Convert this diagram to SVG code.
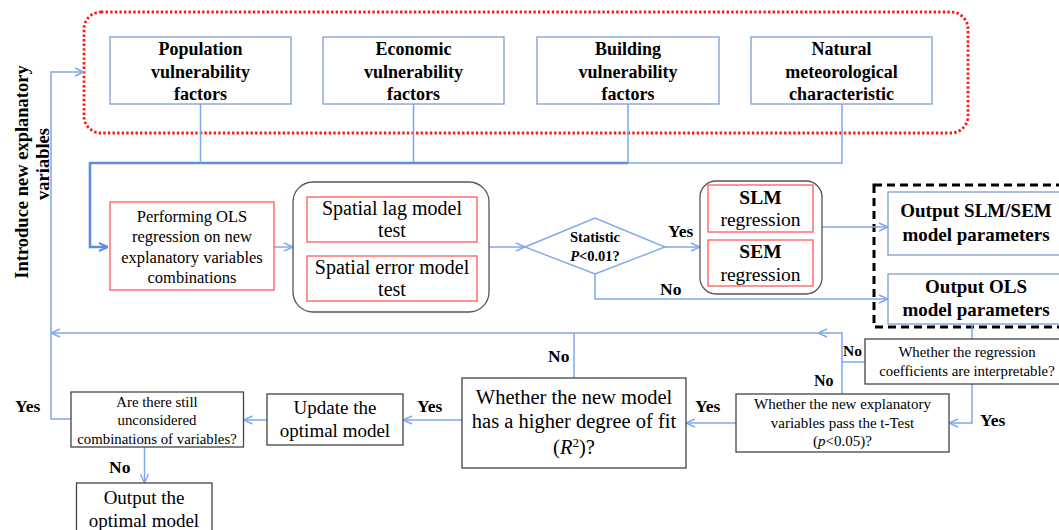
<svg xmlns="http://www.w3.org/2000/svg" width="1059" height="530" viewBox="0 0 1059 530">
  <style>
    text { font-family: "Liberation Serif", "Times New Roman", serif; fill: #000; }
    .b { font-weight: bold; }
    .blue { fill: #fff; stroke: #7f9fd0; stroke-width: 1.3; }
    .red { fill: #fff; stroke: #ff5a5a; stroke-width: 1.3; }
    .gray { fill: #fff; stroke: #555; stroke-width: 1.3; }
    .dark { fill: #fff; stroke: #444; stroke-width: 1.3; }
    .ln { fill: none; stroke: #7fa8ea; stroke-width: 1.5; }
    .thick { fill: none; stroke: #5b8fdc; stroke-width: 2.6; }
    .lab { font-weight: bold; font-size: 17.5px; }
  </style>
  <defs>
    <marker id="arr" viewBox="0 0 10 10" refX="10" refY="5" markerWidth="10" markerHeight="10" markerUnits="userSpaceOnUse" orient="auto">
      <path d="M1,1 L10,5 L1,9" fill="none" stroke="#7fa8ea" stroke-width="1.4"/>
    </marker>
    <marker id="arrT" viewBox="0 0 10 10" refX="10" refY="5" markerWidth="10" markerHeight="10" markerUnits="userSpaceOnUse" orient="auto">
      <path d="M1,1 L10,5 L1,9" fill="none" stroke="#5b8fdc" stroke-width="2"/>
    </marker>
  </defs>

  <rect width="1059" height="530" fill="#fff"/>

  <!-- grouping frames -->
  <rect id="factor-frame" x="84" y="12" width="884" height="121" rx="17" fill="none" stroke="#ff1a1a" stroke-width="2.8" stroke-dasharray="2.4 2.2"/>
  <rect id="output-frame" x="874" y="185" width="200" height="142" fill="none" stroke="#000" stroke-width="3" stroke-dasharray="8 5"/>

  <!-- side label -->
  <g id="side-label" class="b" font-size="18.5">
    <text transform="translate(28,172) rotate(-90)" text-anchor="middle" class="b">Introduce new explanatory</text>
    <text transform="translate(49,164) rotate(-90)" text-anchor="middle" class="b">variables</text>
  </g>

  <!-- connectors -->
  <g id="connectors">
    <path class="ln" d="M200.5,104 V163 M413.5,104 V163 M628,104 V163 M628,163 H842 V104"/>
    <path class="thick" d="M200.5,163 H628" />
    <path class="thick" d="M90,163 H200.5"/>
    <path class="thick" d="M90,162 V247 H108" marker-end="url(#arrT)"/>
    <path class="ln" d="M274,247 H293" marker-end="url(#arr)"/>
    <path class="ln" d="M489,247 H525" marker-end="url(#arr)"/>
    <path class="ln" d="M665,247 H700" marker-end="url(#arr)"/>
    <path class="ln" d="M822,227 H888" marker-end="url(#arr)"/>
    <path class="ln" d="M595,274 V299 H888" marker-end="url(#arr)"/>
    <path class="ln" d="M972,324 V339"/>
    <path class="ln" d="M972,384 V423 H949" marker-end="url(#arr)"/>
    <path class="ln" d="M865,362 H842"/>
    <path class="ln" d="M842,394 V333 H818" marker-end="url(#arr)"/>
    <path class="ln" d="M822,333 H51" marker-end="url(#arr)"/>
    <path class="ln" d="M574,378 V333"/>
    <path class="ln" d="M736,423 H686" marker-end="url(#arr)"/>
    <path class="ln" d="M462,420 H403" marker-end="url(#arr)"/>
    <path class="ln" d="M267,420 H243.5" marker-end="url(#arr)"/>
    <path class="ln" d="M71,419 H51 V72 H84" marker-end="url(#arr)"/>
    <path class="ln" d="M144.5,447 V483" marker-end="url(#arr)"/>
  </g>

  <!-- factor boxes -->
  <g id="population" font-size="18">
    <rect class="blue" x="110" y="37" width="181" height="67"/>
    <text class="b" x="200.5" y="55" text-anchor="middle">Population</text>
    <text class="b" x="200.5" y="77.5" text-anchor="middle">vulnerability</text>
    <text class="b" x="200.5" y="100" text-anchor="middle">factors</text>
  </g>
  <g id="economic" font-size="18">
    <rect class="blue" x="323" y="37" width="181" height="67"/>
    <text class="b" x="413.5" y="55" text-anchor="middle">Economic</text>
    <text class="b" x="413.5" y="77.5" text-anchor="middle">vulnerability</text>
    <text class="b" x="413.5" y="100" text-anchor="middle">factors</text>
  </g>
  <g id="building" font-size="18">
    <rect class="blue" x="537" y="37" width="182" height="67"/>
    <text class="b" x="628" y="55" text-anchor="middle">Building</text>
    <text class="b" x="628" y="77.5" text-anchor="middle">vulnerability</text>
    <text class="b" x="628" y="100" text-anchor="middle">factors</text>
  </g>
  <g id="natural" font-size="18">
    <rect class="blue" x="751" y="37" width="181" height="67"/>
    <text class="b" x="841.5" y="55" text-anchor="middle">Natural</text>
    <text class="b" x="841.5" y="77.5" text-anchor="middle">meteorological</text>
    <text class="b" x="841.5" y="100" text-anchor="middle">characteristic</text>
  </g>

  <!-- OLS step -->
  <g id="ols" font-size="16.5" text-anchor="middle">
    <rect class="red" x="110" y="202" width="164" height="88"/>
    <text x="192" y="222">Performing OLS</text>
    <text x="192" y="242">regression on new</text>
    <text x="192" y="262.5">explanatory variables</text>
    <text x="192" y="283">combinations</text>
  </g>

  <!-- spatial dependence tests -->
  <g id="spatial-tests" font-size="20" text-anchor="middle">
    <rect class="gray" x="293" y="182" width="196" height="130" rx="20"/>
    <rect class="red" x="307" y="197" width="170" height="45"/>
    <text x="392" y="215">Spatial lag model</text>
    <text x="392" y="237">test</text>
    <rect class="red" x="307" y="256" width="170" height="45"/>
    <text x="392" y="274">Spatial error model</text>
    <text x="392" y="296">test</text>
  </g>

  <!-- significance decision -->
  <g id="statistic" text-anchor="middle">
    <polygon points="525,247 595,218 665,247 595,274" fill="#fff" stroke="#7fa8ea" stroke-width="1.4"/>
    <text class="b" x="595" y="242" font-size="14.5">Statistic</text>
    <text class="b" x="595" y="261" font-size="14.5"><tspan font-style="italic">P</tspan>&lt;0.01?</text>
  </g>

  <!-- spatial regressions -->
  <g id="spatial-regression" font-size="19.5" text-anchor="middle">
    <rect class="gray" x="700" y="181" width="122" height="113" rx="16"/>
    <rect class="red" x="708" y="185" width="105" height="47"/>
    <text class="b" x="760.5" y="204">SLM</text>
    <text x="760.5" y="226">regression</text>
    <rect class="red" x="708" y="240" width="105" height="46"/>
    <text class="b" x="760.5" y="258">SEM</text>
    <text x="760.5" y="281">regression</text>
  </g>

  <!-- outputs -->
  <g id="output-spatial" font-size="19" text-anchor="middle">
    <rect class="blue" x="888" y="192" width="190" height="63"/>
    <text class="b" x="976" y="217">Output SLM/SEM</text>
    <text class="b" x="976" y="241">model parameters</text>
  </g>
  <g id="output-ols" font-size="19" text-anchor="middle">
    <rect class="blue" x="888" y="274" width="190" height="50"/>
    <text class="b" x="976" y="293">Output OLS</text>
    <text class="b" x="976" y="316">model parameters</text>
  </g>

  <!-- checks -->
  <g id="interpretable" font-size="14.8" text-anchor="middle">
    <rect class="dark" x="865" y="339" width="215" height="45"/>
    <text x="967" y="357">Whether the regression</text>
    <text x="967" y="376">coefficients are interpretable?</text>
  </g>
  <g id="t-test" font-size="15" text-anchor="middle">
    <rect class="dark" x="736" y="394" width="213" height="58"/>
    <text x="842.5" y="409">Whether the new explanatory</text>
    <text x="842.5" y="427.5">variables pass the t-Test</text>
    <text x="842.5" y="446">(<tspan font-style="italic">p</tspan>&lt;0.05)?</text>
  </g>
  <g id="fit" font-size="20.5" text-anchor="middle">
    <rect class="dark" x="462" y="378" width="224" height="90"/>
    <text x="574" y="404">Whether the new model</text>
    <text x="574" y="428">has a higher degree of fit</text>
    <text x="574" y="454">(<tspan font-style="italic">R</tspan><tspan font-size="13" dy="-7">2</tspan><tspan dy="7">)?</tspan></text>
  </g>
  <g id="update" font-size="19" text-anchor="middle">
    <rect class="dark" x="267" y="394" width="136" height="51"/>
    <text x="335" y="414">Update the</text>
    <text x="335" y="437">optimal model</text>
  </g>
  <g id="remaining" font-size="14.8" text-anchor="middle">
    <rect class="dark" x="71" y="392" width="172.5" height="55"/>
    <text x="157" y="407">Are there still</text>
    <text x="157" y="425">unconsidered</text>
    <text x="157" y="443.5">combinations of variables?</text>
  </g>
  <g id="output-optimal" font-size="19" text-anchor="middle">
    <rect class="dark" x="76.5" y="483" width="135.5" height="52"/>
    <text x="144" y="504">Output the</text>
    <text x="144" y="527">optimal model</text>
  </g>

  <!-- branch labels -->
  <g id="labels">
    <text class="lab" x="668" y="237">Yes</text>
    <text class="lab" x="660" y="295">No</text>
    <text class="b" x="843" y="356" font-size="15.5">No</text>
    <text class="b" x="814" y="386" font-size="16">No</text>
    <text class="lab" x="980" y="426">Yes</text>
    <text class="lab" x="695" y="412">Yes</text>
    <text class="lab" x="548" y="362">No</text>
    <text class="lab" x="417" y="412">Yes</text>
    <text class="lab" x="15" y="412">Yes</text>
    <text class="lab" x="109" y="473">No</text>
  </g>
</svg>
